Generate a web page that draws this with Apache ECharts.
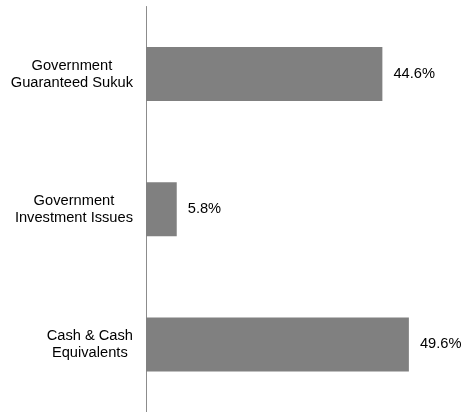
<!DOCTYPE html>
<html>
<head>
<meta charset="utf-8">
<script src="https://cdn.jsdelivr.net/npm/echarts@6/dist/echarts.min.js"></script>
<style>
  html, body { margin: 0; padding: 0; background: #fff; }
  #chart { width: 465px; height: 412px; }
</style>
</head>
<body>
<div id="chart"></div>
<script>
// 资产配置
var categories = [
  "Government\nGuaranteed Sukuk",
  "Government\nInvestment Issues",
  "Cash & Cash\nEquivalents"
];
var shares = [44.6, 5.8, 49.6];

var chart = echarts.init(document.getElementById("chart"));
var option = {
  animation: false,
  grid: {
    left: 146,
    top: 6.5,
    width: 318,
    height: 410
  },
  xAxis: {
    type: "value",
    min: 0,
    max: 60,
    show: false
  },
  yAxis: {
    type: "category",
    inverse: true,
    data: categories,
    axisLine: {
      show: true,
      lineStyle: { color: "#8c8c8c", width: 1 }
    },
    axisTick: { show: false },
    axisLabel: {
      margin: 13,
      color: "#000",
      fontFamily: "Liberation Sans, Arial, sans-serif",
      fontSize: 14.67,
      lineHeight: 17,
      // 每行居中，整体右对齐
      formatter: function (val) {
        return val.split("\n").map(function (s) {
          return "{c|" + s + "}";
        }).join("\n");
      },
      rich: {
        c: {
          align: "center",
          color: "#000",
          fontFamily: "Liberation Sans, Arial, sans-serif",
          fontSize: 14.67,
          lineHeight: 17
        }
      }
    }
  },
  series: [
    {
      type: "bar",
      data: shares,
      barWidth: 54,
      itemStyle: { color: "#808080" },
      label: {
        show: true,
        position: "right",
        distance: 11,
        color: "#000",
        fontFamily: "Liberation Sans, Arial, sans-serif",
        fontSize: 14.67,
        formatter: function (p) {
          return p.value.toFixed(1) + "%";
        }
      }
    }
  ]
};
chart.setOption(option);
</script>
</body>
</html>
